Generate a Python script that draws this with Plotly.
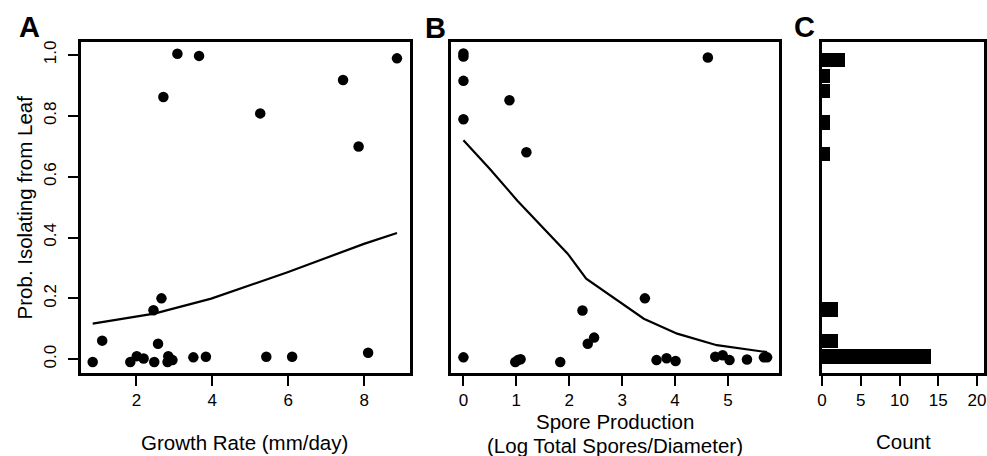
import plotly.graph_objects as go

# ---- Panel A: growth rate vs probability of isolating ----
growth_x = [0.85, 1.10, 1.84, 2.01, 2.19, 2.47, 2.45, 2.57, 2.66, 2.82, 2.84, 2.95, 3.50, 3.83,
            5.42, 6.10, 8.10, 2.71, 3.08, 3.65, 5.26, 7.44, 7.85, 8.86]
growth_y = [-0.009, 0.061, -0.009, 0.010, 0.002, -0.009, 0.161, 0.051, 0.200, -0.009, 0.010, -0.003,
            0.006, 0.008, 0.008, 0.008, 0.021, 0.862, 1.004, 0.997, 0.808, 0.918, 0.699, 0.989]
growth_fit_x = [0.85, 2.47, 3.97, 5.98, 7.99, 8.86]
growth_fit_y = [0.117, 0.150, 0.199, 0.286, 0.379, 0.415]

# ---- Panel B: spore production vs probability of isolating ----
spore_x = [0.00, 0.00, 0.00, 0.87, 0.00, 1.19, 4.62,
           0.00, 0.98, 1.03, 1.08, 1.83, 2.25, 2.35, 2.47, 3.43, 3.65, 3.84, 4.01,
           4.76, 4.90, 5.03, 5.36, 5.68, 5.74]
spore_y = [1.005, 0.995, 0.915, 0.851, 0.789, 0.680, 0.992,
           0.006, -0.009, -0.003, 0.000, -0.009, 0.160, 0.051, 0.071, 0.200, -0.003, 0.003, -0.006,
           0.008, 0.013, -0.003, -0.001, 0.006, 0.006]
spore_fit_x = [0.00, 0.50, 1.02, 1.97, 2.32, 3.41, 4.04, 4.79, 5.74]
spore_fit_y = [0.720, 0.625, 0.521, 0.347, 0.265, 0.133, 0.084, 0.046, 0.023]

# ---- Panel C: histogram of probabilities ----
hist_bin_centers = [0.025, 0.075, 0.175, 0.675, 0.775, 0.875, 0.925, 0.975]
hist_counts = [14, 2, 2, 1, 1, 1, 1, 3]

FONT = "Liberation Sans, Arial, sans-serif"
W, H = 987, 456

def fx(px):
    return px / W

def fy(py):
    return 1 - py / H

fig = go.Figure()

fig.add_trace(go.Scatter(x=growth_x, y=growth_y, mode="markers",
                         marker=dict(color="black", size=10.5), xaxis="x", yaxis="y"))
fig.add_trace(go.Scatter(x=growth_fit_x, y=growth_fit_y, mode="lines",
                         line=dict(color="black", width=2.2), xaxis="x", yaxis="y"))
fig.add_trace(go.Scatter(x=spore_x, y=spore_y, mode="markers",
                         marker=dict(color="black", size=10.5), xaxis="x2", yaxis="y2"))
fig.add_trace(go.Scatter(x=spore_fit_x, y=spore_fit_y, mode="lines",
                         line=dict(color="black", width=2.2), xaxis="x2", yaxis="y2"))
fig.add_trace(go.Bar(x=hist_counts, y=hist_bin_centers, orientation="h", width=0.046,
                     marker=dict(color="black", line=dict(width=0)), xaxis="x3", yaxis="y3"))

box_top, box_bot = 41, 373
ydom = [fy(box_bot), fy(box_top)]

common_axis = dict(showline=True, mirror=True, linecolor="black", linewidth=2.5,
                   showgrid=False, zeroline=False, ticks="outside", ticklen=10,
                   tickwidth=2, tickcolor="black",
                   tickfont=dict(family=FONT, size=17, color="black"))

fig.update_layout(
    width=W, height=H,
    margin=dict(l=0, r=0, t=0, b=0),
    paper_bgcolor="white", plot_bgcolor="white",
    showlegend=False,
    xaxis=dict(common_axis, domain=[fx(76), fx(407)], range=[0.53, 9.19],
               tickvals=[2, 4, 6, 8], anchor="y"),
    yaxis=dict(common_axis, domain=ydom, range=[-0.046, 1.043],
               tickvals=[0, 0.2, 0.4, 0.6, 0.8, 1.0], ticktext=["0.0", "0.2", "0.4", "0.6", "0.8", "1.0"],
               tickangle=-90, ticklabelstandoff=5, anchor="x"),
    xaxis2=dict(common_axis, domain=[fx(449), fx(779)], range=[-0.23, 5.97],
                tickvals=[0, 1, 2, 3, 4, 5], anchor="y2"),
    yaxis2=dict(common_axis, domain=ydom, range=[-0.046, 1.043], ticks="",
                showticklabels=False, anchor="x2"),
    xaxis3=dict(common_axis, domain=[fx(822), fx(985)], range=[0, 20.9],
                tickvals=[0, 5, 10, 15, 20], anchor="y3"),
    yaxis3=dict(common_axis, domain=ydom, range=[-0.029, 1.033], ticks="",
                showticklabels=False, anchor="x3"),
    bargap=0,
)

def ann(text, x, y, size, bold=False, angle=0):
    fig.add_annotation(text=f"<b>{text}</b>" if bold else text,
                       x=fx(x), y=fy(y), xref="paper", yref="paper",
                       showarrow=False, textangle=angle,
                       font=dict(family=FONT, size=size, color="black"),
                       xanchor="center", yanchor="middle")

ann("A", 25, 26, 29, bold=True)
ann("B", 433, 27, 29, bold=True)
ann("C", 804, 26, 29, bold=True)
ann("Growth Rate (mm/day)", 241, 442, 20.5)
ann("Spore Production", 614, 421, 20.5)
ann("(Log Total Spores/Diameter)", 614, 445, 20.5)
ann("Count", 904, 441, 20.5)
ann("Prob. Isolating from Leaf", 20, 207, 20.5, angle=-90)

fig.write_html("out.html")
